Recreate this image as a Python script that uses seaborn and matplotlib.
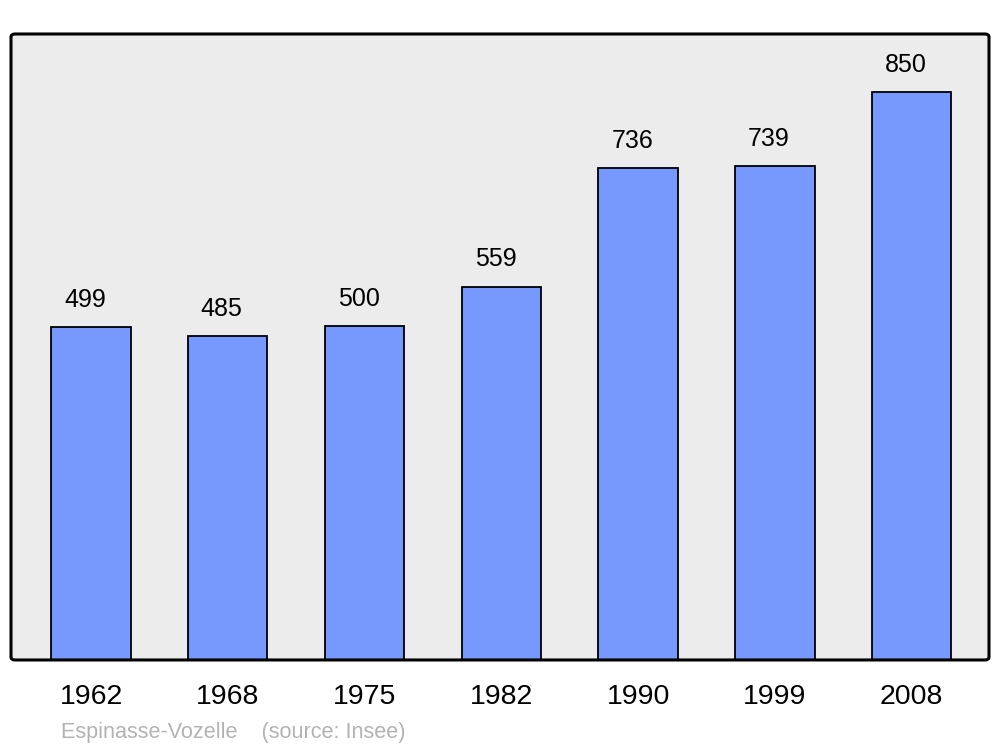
import matplotlib
matplotlib.use("Agg")
import matplotlib.pyplot as plt
import seaborn as sns
import pandas as pd
from matplotlib.patches import FancyBboxPatch

years = ["1962", "1968", "1975", "1982", "1990", "1999", "2008"]
population = [499, 485, 500, 559, 736, 739, 850]
commune = "Espinasse-Vozelle"
source = "(source: Insee)"

df = pd.DataFrame({"year": years, "pop": population})

sns.set_theme(style="white")
plt.rcParams["font.family"] = ["Liberation Sans", "DejaVu Sans"]

fig = plt.figure(figsize=(10, 7.47), dpi=100)
ax = fig.add_axes([0.011, 0.1165, 0.978, 0.838])
ax.set_facecolor("#ececec")

sns.barplot(data=df, x="year", y="pop", color="#7799ff", saturation=1,
            width=0.58, edgecolor="black", linewidth=1.3, ax=ax, zorder=3)

# value labels sit slightly left of the bar centre, like the original
for i, v in enumerate(population):
    ax.text(i - 0.044, v + 30, str(v), ha="center", va="baseline", fontsize=18, color="black")

ax.set_ylim(0, 937)
ax.set_xlim(-0.585, 6.565)
ax.set_xlabel(None)
ax.set_ylabel(None)
ax.set_yticks([])
ax.tick_params(axis="x", length=0, labelsize=20.5, pad=17, labelcolor="black")
for s in ax.spines.values():
    s.set_visible(False)

# rounded frame around the plot area
frame = FancyBboxPatch((0.011, 0.1165), 0.978, 0.838, boxstyle="round,pad=0,rounding_size=0.004",
                       transform=fig.transFigure, facecolor="none", edgecolor="black",
                       linewidth=2.2, zorder=10)
fig.patches.append(frame)

fig.text(0.061, 0.019, commune + "    " + source, fontsize=15.6, color="#b3b3b3", ha="left", va="center")

fig.savefig("out.png", dpi=100)
